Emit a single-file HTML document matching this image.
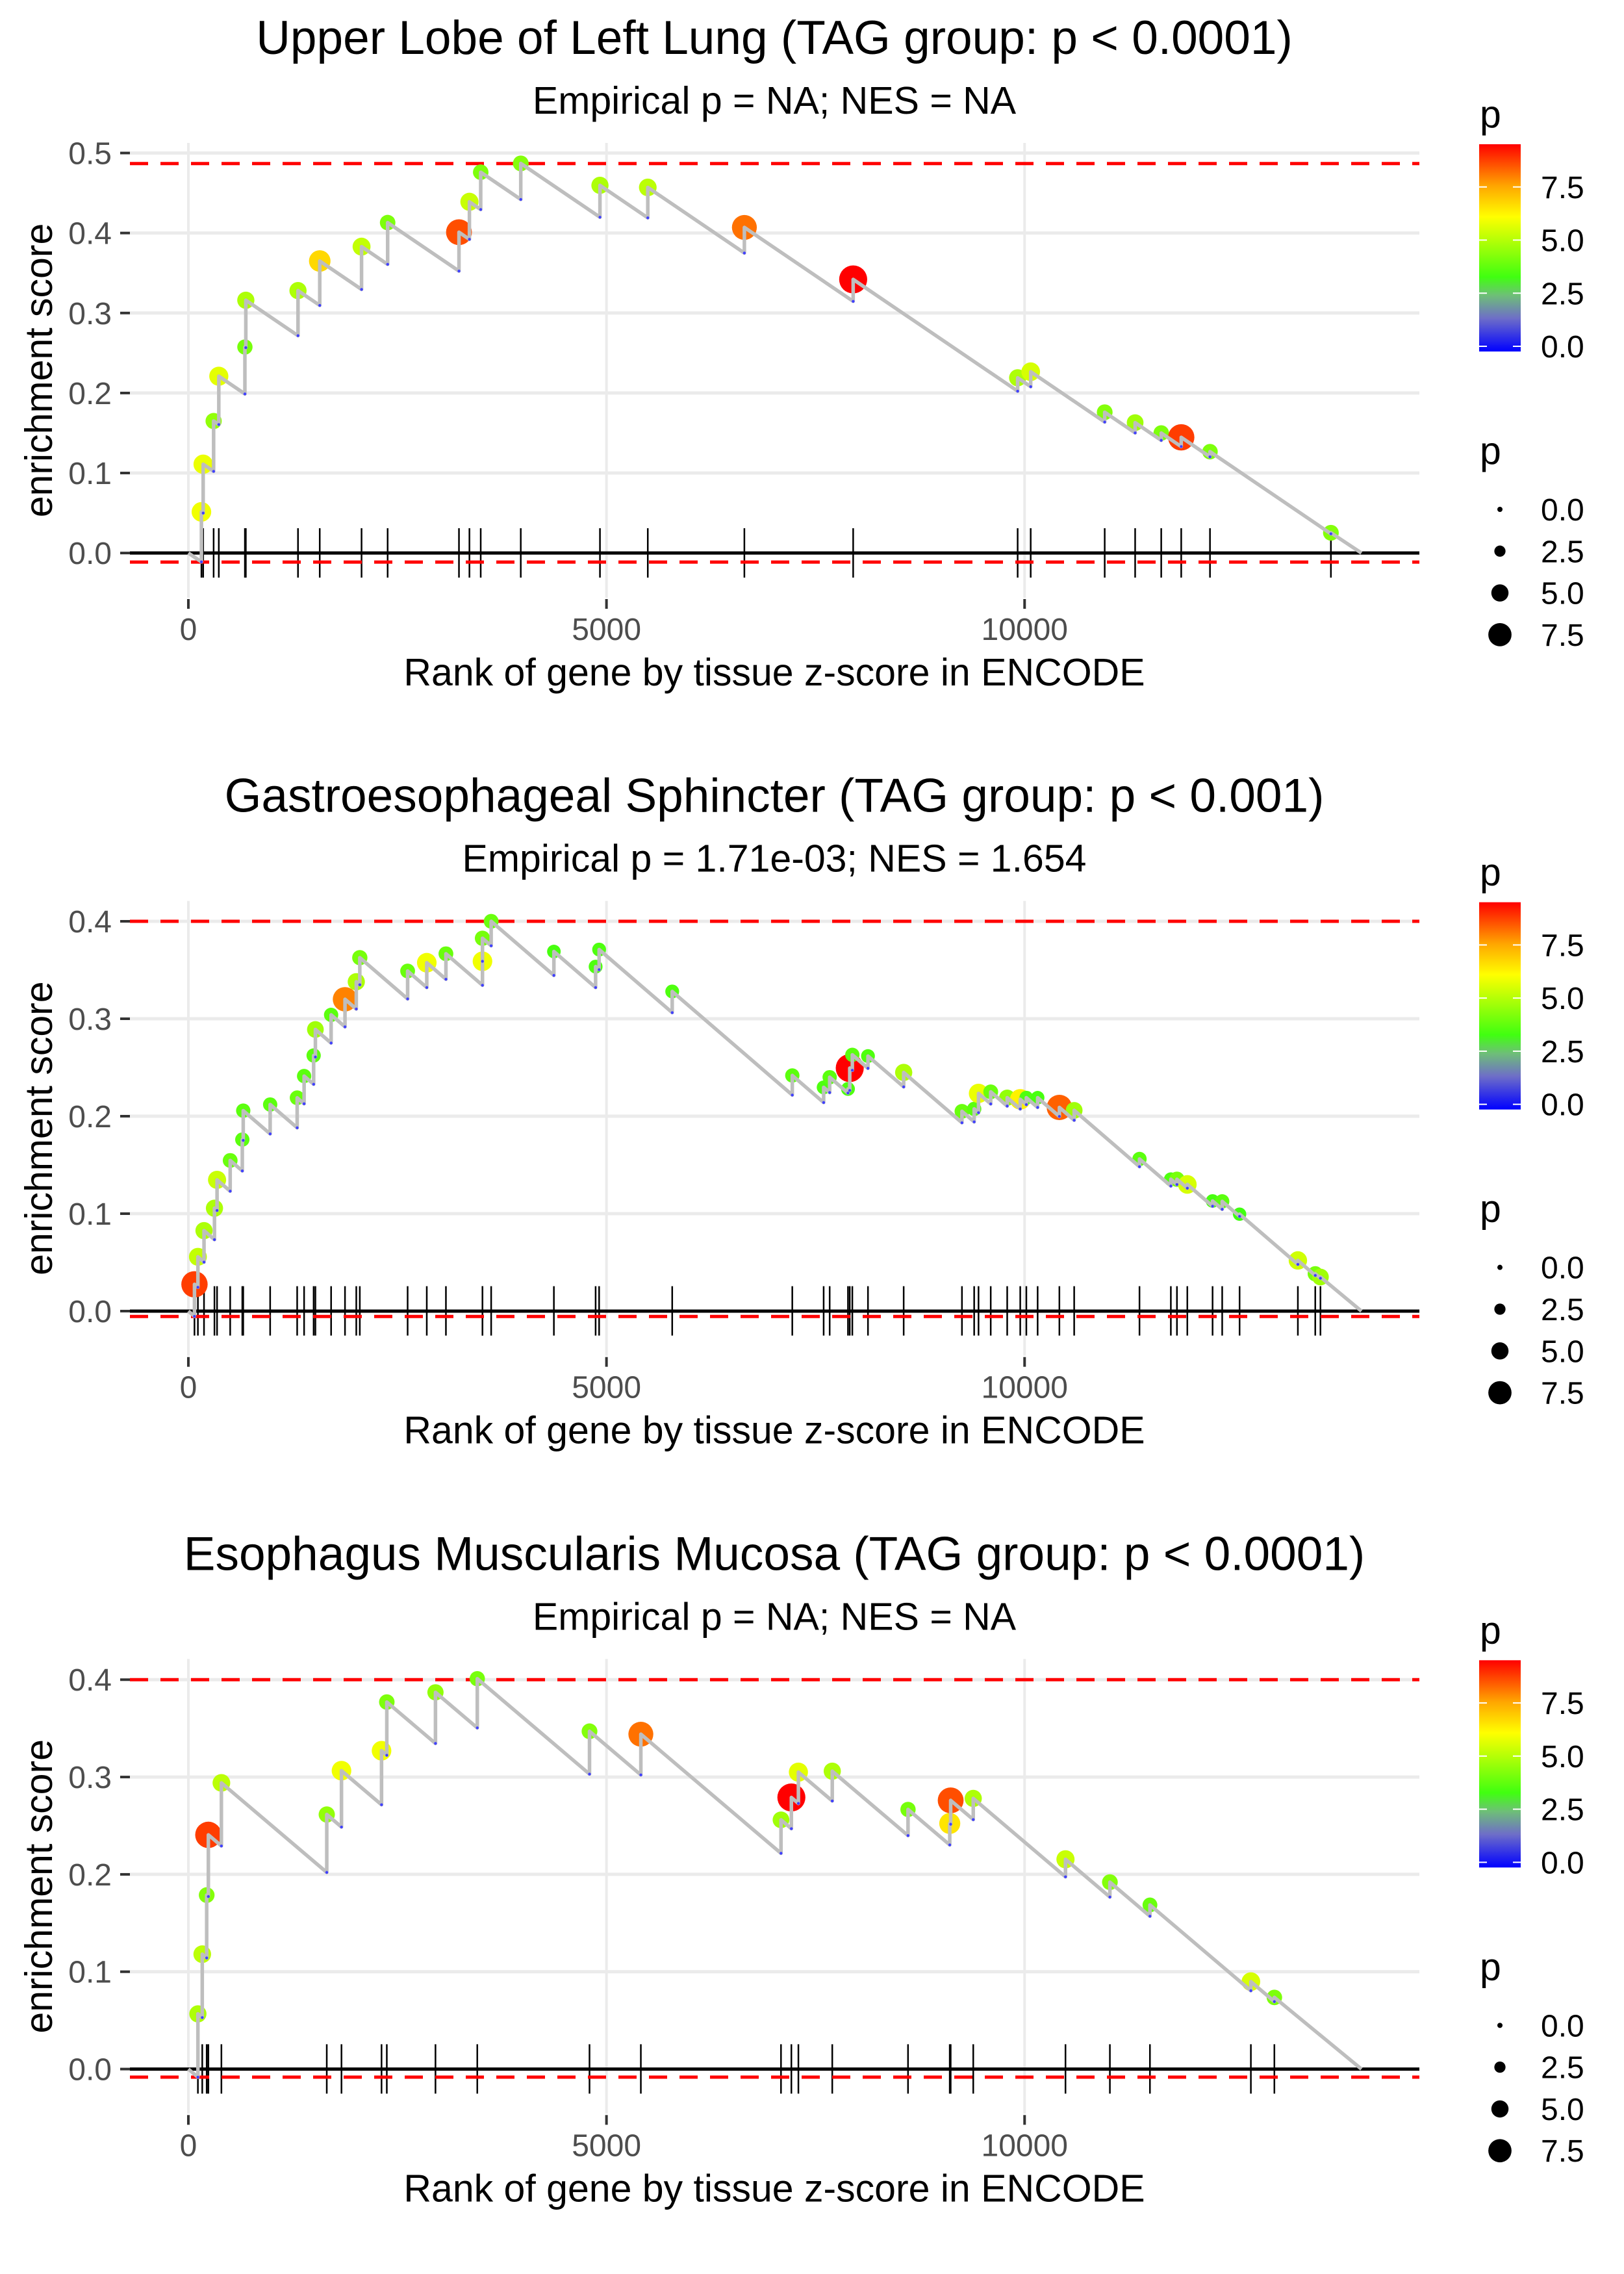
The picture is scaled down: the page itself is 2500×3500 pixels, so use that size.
<!DOCTYPE html>
<html><head><meta charset="utf-8"><style>
html,body{margin:0;padding:0;background:#fff;}
svg{display:block;}
text{font-family:"Liberation Sans",sans-serif;}
</style></head><body>
<svg id="chart" xmlns="http://www.w3.org/2000/svg" width="2500" height="3500" viewBox="0 0 2500 3500">
<defs>
<linearGradient id="pgrad" x1="0" y1="1" x2="0" y2="0">
<stop offset="0" stop-color="#0000ff"/>
<stop offset="0.16" stop-color="#6e6ec8"/>
<stop offset="0.27" stop-color="#6ebe78"/>
<stop offset="0.36" stop-color="#40ff10"/>
<stop offset="0.65" stop-color="#ffff00"/>
<stop offset="0.8" stop-color="#ffa500"/>
<stop offset="1" stop-color="#ff0000"/>
</linearGradient>
</defs>
<rect x="0" y="0" width="2500" height="3500" fill="#fff"/>
</svg>
<script>
// ---------- data ----------
const titles = ["Upper Lobe of Left Lung (TAG group: p < 0.0001)","Gastroesophageal Sphincter (TAG group: p < 0.001)","Esophagus Muscularis Mucosa (TAG group: p < 0.0001)"];
const subtitles = ["Empirical p = NA; NES = NA","Empirical p = 1.71e-03; NES = 1.654","Empirical p = NA; NES = NA"];
const xTicks = [0,5000,10000];
const xTickLabels = ["0","5000","10000"];
const yTicks1 = [0,0.1,0.2,0.3,0.4,0.5];
const yTickLabels1 = ["0.0","0.1","0.2","0.3","0.4","0.5"];
const yTicks2 = [0,0.1,0.2,0.3,0.4];
const yTickLabels2 = ["0.0","0.1","0.2","0.3","0.4"];
const legendTicks = [0,2.5,5,7.5];
const legendLabels = ["0.0","2.5","5.0","7.5"];
const totalGenes = 14028;

const ranks1 = [156,177,302,364,676,687,1311,1571,2071,2383,3236,3361,3496,3975,4922,5494,6649,7950,9917,10073,10958,11322,11634,11873,12217,13663];
const es1 = [0.0514,0.111,0.165,0.221,0.2575,0.316,0.328,0.365,0.383,0.413,0.401,0.439,0.476,0.487,0.4596,0.457,0.407,0.342,0.219,0.2266,0.176,0.163,0.150,0.1446,0.1267,0.0253];
const p1 = [6.0,5.9,4.6,5.8,4.2,5.0,5.0,6.8,5.3,4.3,8.6,5.4,4.3,4.4,5.0,5.2,8.2,9.5,5.0,5.6,4.4,4.8,4.3,8.8,4.3,4.4];

const ranks2 = [73,114,187,312,343,500,645,656,978,1301,1384,1498,1519,1707,1873,2008,2050,2622,2851,3080,3517,3517,3621,4371,4870,4912,5786,7222,7597,7669,7888,7909,7940,8127,8554,9251,9397,9449,9595,9792,9948,10021,10156,10416,10593,11374,11749,11822,11946,12248,12363,12571,13268,13476,13538];
const es2 = [0.0275,0.0557,0.0826,0.1056,0.1347,0.1546,0.176,0.2057,0.212,0.2189,0.2412,0.2623,0.289,0.304,0.320,0.338,0.3627,0.349,0.3575,0.3667,0.359,0.3826,0.400,0.369,0.3535,0.371,0.328,0.2418,0.2296,0.240,0.228,0.2494,0.263,0.2617,0.2449,0.205,0.2075,0.2234,0.225,0.219,0.2173,0.219,0.219,0.209,0.206,0.1561,0.1353,0.1353,0.130,0.113,0.1126,0.0995,0.052,0.0383,0.035];
const p2 = [8.8,5.3,5.0,5.0,5.4,4.0,3.8,3.8,3.8,4.0,3.8,3.8,4.8,3.8,8.0,5.0,4.2,4.0,6.0,4.0,6.0,4.2,4.0,3.5,3.6,3.6,3.6,3.8,3.6,3.8,3.6,9.5,3.8,3.6,5.0,4.0,3.8,5.9,4.0,4.6,6.4,3.6,3.5,8.4,4.8,3.8,3.6,4.2,5.6,3.5,3.8,3.4,5.5,4.2,4.8];

const ranks3 = [114,166,219,239,395,1655,1831,2310,2373,2955,3455,4797,5411,7087,7211,7295,7700,8606,9105,9116,9386,10489,11020,11499,12706,12987];
const es3 = [0.0567,0.118,0.1787,0.2406,0.294,0.2615,0.3065,0.327,0.377,0.387,0.401,0.347,0.344,0.256,0.279,0.305,0.306,0.2667,0.2523,0.276,0.278,0.2155,0.192,0.1686,0.0898,0.0736];
const p3 = [5.0,5.2,4.4,8.8,5.2,4.6,6.0,6.0,4.3,4.6,4.2,4.4,8.2,4.8,9.5,5.8,5.0,4.2,6.6,8.6,5.0,5.4,4.4,4.0,5.6,4.3];

const esMaxLines = [0.4868,0.400,0.400];
const esMinLines = [-0.0113,-0.0055,-0.0083];

// ---------- helpers ----------
const svg = document.getElementById('chart');
const NS = 'http://www.w3.org/2000/svg';
function mk(tag, attrs, parent){
  const e = document.createElementNS(NS, tag);
  for (const k in attrs) e.setAttribute(k, attrs[k]);
  (parent||svg).appendChild(e);
  return e;
}
const colorStops = [[0,[0,0,255]],[1.5,[110,110,200]],[2.5,[110,190,120]],[3.4,[64,255,16]],[6.2,[255,255,0]],[7.6,[255,165,0]],[9.5,[255,0,0]]];
function pColor(p){
  if (p<=colorStops[0][0]) return 'rgb(0,0,255)';
  for (let i=1;i<colorStops.length;i++){
    if (p<=colorStops[i][0]){
      const a=colorStops[i-1], b=colorStops[i];
      const t=(p-a[0])/(b[0]-a[0]);
      const c=a[1].map((v,j)=>Math.round(v+(b[1][j]-v)*t));
      return 'rgb('+c.join(',')+')';
    }
  }
  return 'rgb(255,0,0)';
}
function pRadius(p){ return 4 + 1.85*p; }

const PX0 = 200, PX1 = 2185, PY0 = 220, PY1 = 920;
const xDom = [-699, 14721];
function xScale(r){ return PX0 + (r - xDom[0])/(xDom[1]-xDom[0])*(PX1-PX0); }

const panels = [
  {ranks:ranks1, es:es1, p:p1, yDom:[-0.0559,0.5126], yTicks:yTicks1, yLabels:yTickLabels1, slope:7.1e-5},
  {ranks:ranks2, es:es2, p:p2, yDom:[-0.0458,0.4209], yTicks:yTicks2, yLabels:yTickLabels2, slope:7.4e-5},
  {ranks:ranks3, es:es3, p:p3, yDom:[-0.0459,0.4213], yTicks:yTicks2, yLabels:yTickLabels2, slope:7.3e-5}
];

panels.forEach((P, k) => {
  const off = k*1166.67;
  const g = mk('g', {transform:'translate(0,'+off+')'});
  
  
  const yScale = v => PY1 - (v - P.yDom[0])/(P.yDom[1]-P.yDom[0])*(PY1-PY0);

  const t = mk('text', {x:1192, y:83, 'font-size':73, 'text-anchor':'middle', fill:'#000'}, g);
  t.textContent = titles[k];
  
  
  const st = mk('text', {x:1192, y:175, 'font-size':59, 'text-anchor':'middle', fill:'#000'}, g);
  st.textContent = subtitles[k];
  
  

  P.yTicks.forEach(v => {
    const gl = mk('line', {x1:PX0, x2:PX1, y1:yScale(v), y2:yScale(v), stroke:'#ebebeb', 'stroke-width':5}, g);
    
    
  });
  xTicks.forEach(v => {
    const gl = mk('line', {x1:xScale(v), x2:xScale(v), y1:PY0, y2:PY1, stroke:'#ebebeb', 'stroke-width':4}, g);
    
    
  });

  P.yTicks.forEach((v,i) => {
    const tk = mk('line', {x1:185, x2:200, y1:yScale(v), y2:yScale(v), stroke:'#333', 'stroke-width':4}, g);
    
    
    const tl = mk('text', {x:172, y:yScale(v)+17, 'font-size':48, 'text-anchor':'end', fill:'#4d4d4d'}, g);
    tl.textContent = P.yLabels[i];
    
    
  });
  xTicks.forEach((v,i) => {
    const tk = mk('line', {x1:xScale(v), x2:xScale(v), y1:922, y2:937, stroke:'#333', 'stroke-width':4}, g);
    
    
    const tl = mk('text', {x:xScale(v), y:985, 'font-size':48, 'text-anchor':'middle', fill:'#4d4d4d'}, g);
    tl.textContent = xTickLabels[i];
    
    
  });
  const xt = mk('text', {x:1192, y:1055, 'font-size':59, 'text-anchor':'middle', fill:'#000'}, g);
  xt.textContent = 'Rank of gene by tissue z-score in ENCODE';
  
  
  const yt = mk('text', {x:0, y:0, 'font-size':59, 'text-anchor':'middle', fill:'#000', transform:'translate(80,570) rotate(-90)'}, g);
  yt.textContent = 'enrichment score';
  
  

  const zl = mk('line', {x1:PX0, x2:PX1, y1:yScale(0), y2:yScale(0), stroke:'#000', 'stroke-width':5}, g);
  
  
  P.ranks.forEach(r => {
    const rl = mk('line', {x1:xScale(r), x2:xScale(r), y1:813, y2:889, stroke:'#000', 'stroke-width':2.5}, g);
    
    
  });
  [esMaxLines[k], esMinLines[k]].forEach((v,i) => {
    const dl = mk('line', {x1:PX0, x2:PX1, y1:yScale(v), y2:yScale(v), stroke:'#ff0000', 'stroke-width':5, 'stroke-dasharray':'28 19'}, g);
    
    
  });

  P.ranks.forEach((r,i) => {
    const c = mk('circle', {cx:xScale(r), cy:yScale(P.es[i]), r:pRadius(P.p[i]), fill:pColor(P.p[i])}, g);
    
    
  });

  let d = 'M'+xScale(0)+','+yScale(0);
  let prevR = 0, prevE = 0;
  const bottoms = [];
  P.ranks.forEach((r,i) => {
    let before = prevE - P.slope*(r-prevR);
    if (before > P.es[i]) before = P.es[i];
    bottoms.push([r, before]);
    d += ' L'+xScale(r)+','+yScale(before)+' L'+xScale(r)+','+yScale(P.es[i]);
    prevR = r; prevE = P.es[i];
  });
  d += ' L'+xScale(totalGenes)+','+yScale(0);
  const path = mk('path', {d:d, fill:'none', stroke:'#bebebe', 'stroke-width':5.5, 'stroke-linejoin':'round'}, g);
  
  
  bottoms.forEach(b => {
    const bd = mk('circle', {cx:xScale(b[0]), cy:yScale(b[1]), r:2.2, fill:'#4040ff'}, g);
    
    
  });

  const lg = mk('g', {}, g);
  
  
  const lt = mk('text', {x:2278, y:196, 'font-size':59, fill:'#000'}, lg);
  lt.textContent = 'p';
  
  
  const cb = mk('rect', {x:2277, y:222, width:64, height:319, fill:'url(#pgrad)'}, lg);
  
  
  const cbY = v => 533 - v*32.7;
  legendTicks.forEach((v,i) => {
    mk('line', {x1:2277, x2:2289, y1:cbY(v), y2:cbY(v), stroke:'#fff', 'stroke-width':2}, lg);
    mk('line', {x1:2329, x2:2341, y1:cbY(v), y2:cbY(v), stroke:'#fff', 'stroke-width':2}, lg);
    const l = mk('text', {x:2372, y:cbY(v)+17, 'font-size':48, fill:'#000'}, lg);
    l.textContent = legendLabels[i];
    
    
  });
  const sg = mk('g', {}, g);
  
  
  const s2 = mk('text', {x:2278, y:714, 'font-size':59, fill:'#000'}, sg);
  s2.textContent = 'p';
  
  
  legendTicks.forEach((v,i) => {
    const yy = 784 + i*64.3;
    const dot = mk('circle', {cx:2309, cy:yy, r:pRadius(v), fill:'#000'}, sg);
    
    
    const l = mk('text', {x:2372, y:yy+17, 'font-size':48, fill:'#000'}, sg);
    l.textContent = legendLabels[i];
    
    
  });
});
</script>
</body></html>
